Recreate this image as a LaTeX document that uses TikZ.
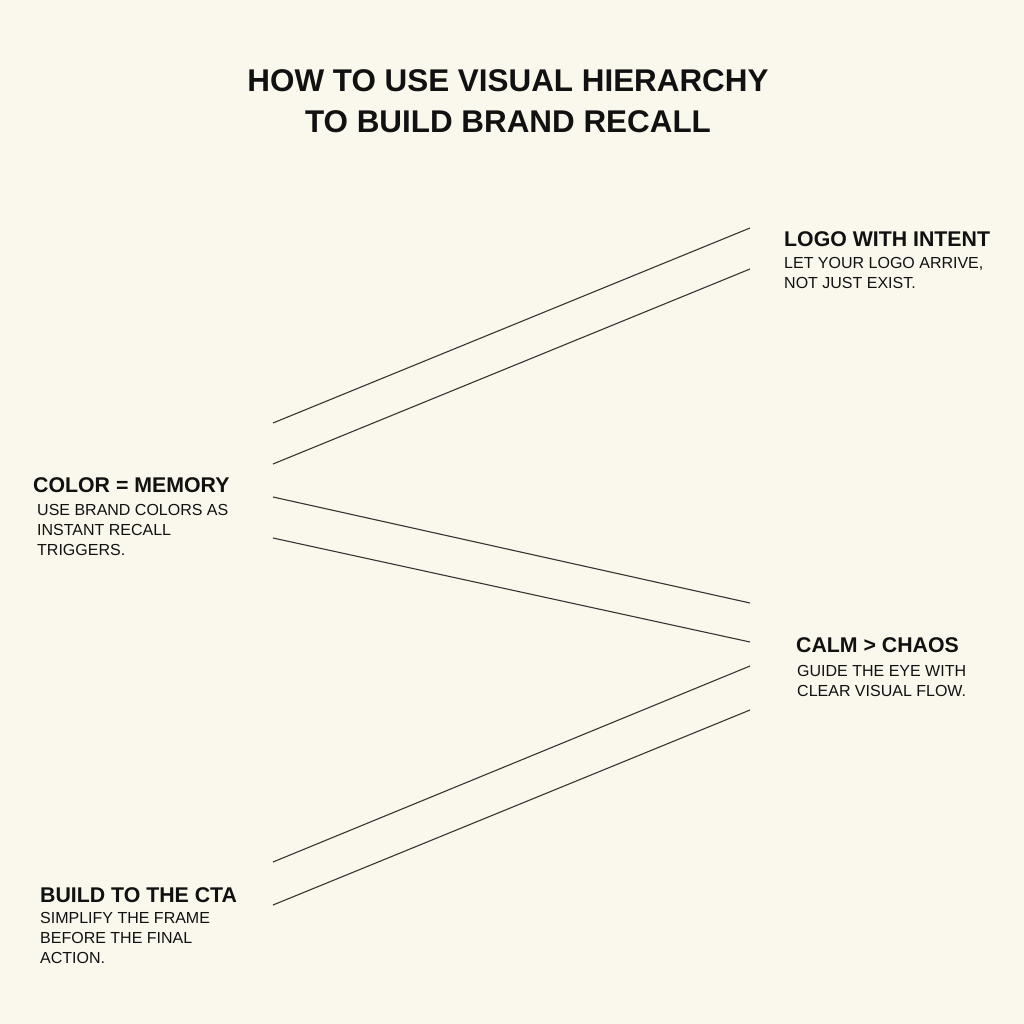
\documentclass[tikz,border=0pt]{standalone}
\usepackage{fontspec}
\setmainfont{Liberation Sans}
\usepackage{tikz}
\definecolor{paper}{HTML}{FAF7EC}
\definecolor{ink}{HTML}{111111}

\begin{document}
\begin{tikzpicture}
[x=1pt, y=-1pt,
 every node/.style={inner sep=0pt, text=ink},
 head/.style={anchor=base west, font=\bfseries\fontsize{21.3}{24}\selectfont},
 body/.style={anchor=base west, align=left, font=\fontsize{16}{20}\selectfont},
 ray/.style={draw=ink!85, line width=1.1pt}]
% Background
\fill[paper] (0,0) rectangle (1024,1024);
\useasboundingbox (0,0) rectangle (1024,1024);

% Title (base = last line)
\node[anchor=base, align=center, font=\bfseries\fontsize{31.4}{41}\selectfont] (title) at (508,133) {HOW TO USE VISUAL HIERARCHY\\TO BUILD BRAND RECALL};

% Labels (body base = last line)
\node[head] (logo) at (784,247) {LOGO WITH INTENT};
\node[body] (logotxt) at (784,288) {LET YOUR LOGO ARRIVE,\\NOT JUST EXIST.};

\node[head] (color) at (33,492) {COLOR = MEMORY};
\node[body] (colortxt) at (37,555) {USE BRAND COLORS AS\\INSTANT RECALL\\TRIGGERS.};

\node[head] (calm) at (796,652) {CALM > CHAOS};
\node[body] (calmtxt) at (797,696) {GUIDE THE EYE WITH\\CLEAR VISUAL FLOW.};

\node[head] (cta) at (40,902) {BUILD TO THE CTA};
\node[body] (ctatxt) at (40,963) {SIMPLIFY THE FRAME\\BEFORE THE FINAL\\ACTION.};

% Line ends
\coordinate (a0) at (273,423); \coordinate (a1) at (750,228);
\coordinate (b0) at (273,464); \coordinate (b1) at (750,269);
\coordinate (c0) at (273,497); \coordinate (c1) at (750,603);
\coordinate (d0) at (273,538); \coordinate (d1) at (750,642);
\coordinate (e0) at (273,862); \coordinate (e1) at (750,666);
\coordinate (f0) at (273,905); \coordinate (f1) at (750,710);

\draw[ray] (a0) -- (a1);
\draw[ray] (b0) -- (b1);
\draw[ray] (c0) -- (c1);
\draw[ray] (d0) -- (d1);
\draw[ray] (e0) -- (e1);
\draw[ray] (f0) -- (f1);
\end{tikzpicture}
\end{document}
